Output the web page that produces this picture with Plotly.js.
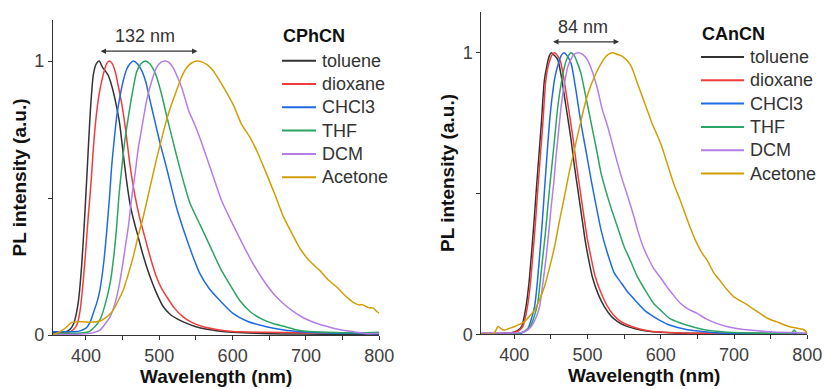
<!DOCTYPE html>
<html>
<head>
<meta charset="utf-8">
<script src="https://cdn.plot.ly/plotly-3.0.1.min.js"></script>
<style>
html,body{margin:0;padding:0;background:#fff;}
#chart{width:824px;height:389px;}
</style>
</head>
<body>
<div id="chart"></div>
<script>
// ---------- Data: CPhCN (left panel) ----------
const solvents = ['toluene', 'dioxane', 'CHCl3', 'THF', 'DCM', 'Acetone'];
const panelTitles = ['CPhCN', 'CAnCN'];
const shiftLabels = ['132 nm', '84 nm'];

const cph_toluene_wl = [355,370,378,383,387,390,394,398,402,406,410,414,418,422,426,430,434,438,442,446,450,455,460,465,471,478,487,495,505,515,525,535,550,565,580,600,630,670,720,800];
const cph_toluene_I  = [0.008,0.01,0.02,0.04,0.08,0.13,0.25,0.42,0.62,0.82,0.95,0.99,1.0,0.98,0.965,0.95,0.92,0.88,0.83,0.77,0.68,0.57,0.48,0.42,0.36,0.29,0.215,0.16,0.105,0.075,0.058,0.045,0.03,0.021,0.015,0.01,0.006,0.004,0.003,0.002];

const cph_dioxane_wl = [355,375,383,388,392,396,400,403,407,410,414,418,423,428,432,436,440,444,449,454,460,466,473,480,487,495,503,510,520,532,545,560,578,600,640,700,750,800];
const cph_dioxane_I  = [0.005,0.008,0.02,0.04,0.09,0.19,0.32,0.43,0.56,0.68,0.8,0.88,0.945,0.99,1.0,0.99,0.96,0.91,0.84,0.75,0.62,0.52,0.43,0.36,0.29,0.22,0.17,0.14,0.1,0.067,0.045,0.03,0.02,0.013,0.01,0.008,0.007,0.008];

const cph_chcl3_wl = [355,375,385,392,400,405,410,415,419,424,428,432,435,438,442,447,451,455.5,460,465,470,476,482,487,494,501,508,515,523,533,544,555,568,583,600,620,646,670,692,720,760,800];
const cph_chcl3_I  = [0.012,0.012,0.012,0.015,0.025,0.043,0.08,0.12,0.165,0.26,0.37,0.5,0.615,0.7,0.8,0.88,0.93,0.97,0.99,1.0,0.99,0.965,0.92,0.86,0.78,0.7,0.63,0.555,0.47,0.384,0.3,0.226,0.17,0.125,0.08,0.05,0.03,0.018,0.012,0.008,0.006,0.005];

const cph_thf_wl = [355,380,395,404,412,419,426,433,438,442,445,449,453,458,463,469,475,481,487,492,496,503,510,517,524,533,542,556,570,583,596,610,624,640,655,670,685,700,730,770,800];
const cph_thf_I  = [0.005,0.006,0.008,0.012,0.03,0.055,0.11,0.19,0.29,0.4,0.51,0.615,0.71,0.8,0.88,0.96,0.99,1.0,0.99,0.97,0.945,0.88,0.8,0.725,0.65,0.56,0.48,0.4,0.32,0.245,0.185,0.125,0.085,0.058,0.042,0.032,0.02,0.014,0.01,0.008,0.01];

const cph_dcm_wl = [355,390,405,419,426,433,439,444,449,453,458,462,467,471,477,483,490,496,502,508,513,519,525,531,540,548,556,565,574,585,601,614,628,642,656,669,683,697,712,728,745,765,783,800];
const cph_dcm_I  = [0.002,0.003,0.006,0.018,0.04,0.067,0.11,0.165,0.24,0.31,0.4,0.494,0.59,0.676,0.77,0.86,0.93,0.975,0.995,1.0,0.995,0.975,0.94,0.9,0.82,0.77,0.715,0.645,0.575,0.49,0.4,0.33,0.26,0.2,0.15,0.115,0.085,0.062,0.045,0.032,0.02,0.012,0.005,0.006];

const cph_acetone_wl = [355,365,374,380,388,396,405,414,420,425,431,437,444,451,458,464.5,471,478,487,496,503,510,517,524,530,537,544,551,558,566,574,583,592,601,612,624,635,646,658,669,681,692,705,719,731,742,753,764,772,778,785,792,797,800];
const cph_acetone_I  = [0,0.012,0.03,0.045,0.048,0.048,0.047,0.048,0.052,0.06,0.072,0.09,0.125,0.165,0.225,0.286,0.36,0.43,0.535,0.64,0.715,0.786,0.845,0.896,0.94,0.975,0.993,1.0,0.997,0.985,0.963,0.925,0.884,0.84,0.77,0.72,0.66,0.59,0.51,0.433,0.37,0.315,0.27,0.235,0.2,0.175,0.145,0.12,0.11,0.11,0.1,0.098,0.085,0.08];

// ---------- Data: CAnCN (right panel) ----------
const can_toluene_wl = [355,380,396,404,410,416,420,423,427,430,433.5,437,441,445,448,451,455,459.5,464,468.5,473,477.6,482,487,492,497,502,507,515,523,532,541,552,565,580,600,630,680,800];
const can_toluene_I  = [0.003,0.003,0.006,0.012,0.027,0.098,0.18,0.27,0.4,0.51,0.63,0.75,0.9,0.96,0.99,1.0,0.99,0.975,0.92,0.845,0.77,0.69,0.6,0.51,0.42,0.33,0.26,0.2,0.14,0.098,0.065,0.045,0.03,0.02,0.012,0.007,0.004,0.003,0.002];

const can_dioxane_wl = [355,380,398,406,412,418,422,425,429,432,435.5,439,443,447,451,455,459,463,467,471.5,476,480.5,485,490,495,500,505,510,518,526,535,544,556,570,585,605,640,700,800];
const can_dioxane_I  = [0.003,0.003,0.006,0.012,0.03,0.098,0.18,0.27,0.4,0.51,0.63,0.75,0.9,0.96,0.99,1.0,0.99,0.97,0.92,0.845,0.77,0.69,0.6,0.51,0.42,0.335,0.27,0.21,0.15,0.105,0.07,0.048,0.032,0.02,0.012,0.007,0.004,0.003,0.002];

const can_chcl3_wl = [355,400,410,418.6,424,427.7,431,434.5,438,441.3,444.5,448,452,456,460,464,468,472,477.6,484,491,498,505,511.5,518.5,527,536.6,544,555,567,578,590,600,612,635,660,680,720,800];
const can_chcl3_I  = [0,0,0.004,0.02,0.06,0.098,0.17,0.276,0.39,0.513,0.63,0.75,0.85,0.92,0.96,0.99,1.0,0.99,0.962,0.87,0.75,0.65,0.548,0.46,0.37,0.29,0.217,0.19,0.15,0.115,0.085,0.063,0.048,0.033,0.017,0.009,0.005,0.003,0.002];

const can_thf_wl = [355,400,409.5,416,423,428,432,435.5,439,442.5,445.8,449,452.6,456,459.5,464,468.5,473,477.6,482,486,491,498,505,512,518.5,525,532,541,550,558,568,578,590,600,612,625,635,658,680,700,740,778,782,786,800];
const can_thf_I  = [0,0.002,0.006,0.015,0.033,0.07,0.11,0.19,0.276,0.36,0.453,0.54,0.63,0.72,0.81,0.89,0.95,0.985,1.0,0.99,0.965,0.927,0.84,0.75,0.66,0.572,0.51,0.45,0.38,0.311,0.265,0.205,0.16,0.11,0.085,0.057,0.042,0.033,0.017,0.01,0.006,0.004,0.004,0.015,0.004,0.004];

const can_dcm_wl = [355,395,409.5,416,423,429,434.5,439,443.6,447,450.4,454,457,460.5,464,468.5,473,478,482,487,493,500,507,514,520,527.6,534,541,548,555,562,568.4,576,583,590,600,608,617,626,637,649,662,676,690,703.5,725,749,775,800];
const can_dcm_I  = [0.005,0.005,0.006,0.012,0.027,0.055,0.098,0.18,0.276,0.36,0.453,0.54,0.63,0.72,0.81,0.89,0.95,0.98,0.995,1.0,0.995,0.974,0.93,0.868,0.8,0.737,0.675,0.607,0.545,0.489,0.43,0.37,0.31,0.27,0.235,0.2,0.17,0.14,0.112,0.09,0.075,0.055,0.039,0.028,0.021,0.014,0.009,0.006,0.004];

const can_acetone_wl = [355,372,376,378,381,386,392,400,407,414,421,427.7,434,441.3,448,455,461.5,468.5,475,482,489,495.8,502,509.4,516,523,528,534,540,546,553,560,567,574,581,588,594,601,612,619,626,633,640,648,656,664,672,681,690,699,708,717,726,735,745,752,758,767,776,785,794,800];
const can_acetone_I  = [0,0.002,0.02,0.028,0.022,0.015,0.02,0.027,0.035,0.045,0.065,0.086,0.12,0.17,0.235,0.311,0.4,0.489,0.575,0.655,0.735,0.81,0.865,0.915,0.95,0.98,0.993,1.0,0.995,0.99,0.975,0.95,0.9,0.85,0.8,0.75,0.714,0.67,0.58,0.525,0.48,0.43,0.38,0.33,0.29,0.26,0.22,0.19,0.16,0.135,0.12,0.107,0.09,0.075,0.058,0.05,0.045,0.035,0.027,0.022,0.018,0.006];

const xTickVals = [400,450,500,550,600,650,700,750,800];
const xTickText = ['400','','500','','600','','700','','800'];
const yTickVals = [0,0.5,1];
const yTickText = ['0','','1'];

// ---------- Styles ----------
const colors = ['#333333','#f03c3c','#1f6be3','#2ca463','#b47de8','#d19e05'];
const FONT = 'Liberation Sans, Arial, sans-serif';
const W = 824, H = 389;

const leftSeries = [
  [cph_toluene_wl, cph_toluene_I],
  [cph_dioxane_wl, cph_dioxane_I],
  [cph_chcl3_wl, cph_chcl3_I],
  [cph_thf_wl, cph_thf_I],
  [cph_dcm_wl, cph_dcm_I],
  [cph_acetone_wl, cph_acetone_I]
];
const rightSeries = [
  [can_toluene_wl, can_toluene_I],
  [can_dioxane_wl, can_dioxane_I],
  [can_chcl3_wl, can_chcl3_I],
  [can_thf_wl, can_thf_I],
  [can_dcm_wl, can_dcm_I],
  [can_acetone_wl, can_acetone_I]
];

const traces = [];
leftSeries.forEach((s, i) => {
  traces.push({x: s[0], y: s[1], type: 'scatter', mode: 'lines', name: solvents[i],
    line: {color: colors[i], width: 1.5, shape: 'spline', smoothing: 0.6},
    xaxis: 'x', yaxis: 'y', showlegend: false});
});
rightSeries.forEach((s, i) => {
  traces.push({x: s[0], y: s[1], type: 'scatter', mode: 'lines', name: solvents[i],
    line: {color: colors[i], width: 1.5, shape: 'spline', smoothing: 0.6},
    xaxis: 'x2', yaxis: 'y2', showlegend: false});
});

function xAxis(domain, anchor) {
  return {domain: domain, anchor: anchor, range: [355, 800], showgrid: false, zeroline: false,
    showline: true, linecolor: '#333', linewidth: 1, ticks: 'outside', ticklen: 4, tickcolor: '#333',
    tickmode: 'array', tickvals: xTickVals, ticktext: xTickText,
    tickfont: {family: FONT, size: 18, color: '#404040'},
    title: {text: '<b>Wavelength (nm)</b>', font: {family: FONT, size: 19, color: '#111'}, standoff: 4}};
}
function yAxis(domain, anchor, top, standoff) {
  return {domain: domain, anchor: anchor, range: [0, top], showgrid: false, zeroline: false,
    showline: true, linecolor: '#333', linewidth: 1, ticks: 'outside', ticklen: 4, tickcolor: '#333',
    tickmode: 'array', tickvals: yTickVals, ticktext: yTickText,
    tickfont: {family: FONT, size: 18, color: '#404040'},
    title: {text: '<b>PL intensity (a.u.)</b>', font: {family: FONT, size: 19, color: '#111'}, standoff: standoff}};
}

// Manual legends (pixel layout → paper coords)
const legendBoxes = [
  {titleX: 281, titleY: 36, lineX0: 282, lineX1: 316, textX: 320, row0: 60.7, rowGap: 23.3},
  {titleX: 700, titleY: 34, lineX0: 701, lineX1: 744, textX: 748, row0: 57, rowGap: 23.3}
];
const shapes = [];
const annotations = [];
legendBoxes.forEach((b, p) => {
  annotations.push({xref: 'paper', yref: 'paper', x: b.titleX / W, y: 1 - b.titleY / H,
    xanchor: 'left', yanchor: 'middle', showarrow: false, text: '<b>' + panelTitles[p] + '</b>',
    font: {family: FONT, size: 18, color: '#111'}});
  solvents.forEach((name, i) => {
    const yy = 1 - (b.row0 + i * b.rowGap) / H;
    shapes.push({type: 'line', xref: 'paper', yref: 'paper', x0: b.lineX0 / W, x1: b.lineX1 / W,
      y0: yy, y1: yy, line: {color: colors[i], width: 2}});
    annotations.push({xref: 'paper', yref: 'paper', x: b.textX / W, y: yy, xanchor: 'left',
      yanchor: 'middle', showarrow: false, text: name, font: {family: FONT, size: 18, color: '#333'}});
  });
});

// Shift annotations (double arrows + labels)
annotations.push(
  {xref: 'x', yref: 'y', x: 552, y: 1.036, ax: 418, ay: 1.036, axref: 'x', ayref: 'y',
   text: '', showarrow: true, arrowside: 'end+start', arrowhead: 2, arrowsize: 0.9, arrowwidth: 1.2, arrowcolor: '#333'},
  {xref: 'x', yref: 'y', x: 480.5, y: 1.09, text: shiftLabels[0], showarrow: false,
   font: {family: FONT, size: 18, color: '#333'}},
  {xref: 'x2', yref: 'y2', x: 543, y: 1.039, ax: 451, ay: 1.039, axref: 'x2', ayref: 'y2',
   text: '', showarrow: true, arrowside: 'end+start', arrowhead: 2, arrowsize: 0.9, arrowwidth: 1.2, arrowcolor: '#333'},
  {xref: 'x2', yref: 'y2', x: 493.6, y: 1.091, text: shiftLabels[1], showarrow: false,
   font: {family: FONT, size: 18, color: '#333'}}
);

const layout = {
  width: W, height: H,
  margin: {l: 0, r: 0, t: 0, b: 0},
  paper_bgcolor: '#fff', plot_bgcolor: '#fff',
  font: {family: FONT},
  xaxis: xAxis([0.0643, 0.4603], 'y'),
  yaxis: yAxis([0.1388, 0.9486], 'x', 1.15, 2),
  xaxis2: xAxis([0.5841, 0.9797], 'y2'),
  yaxis2: yAxis([0.1406, 0.970], 'x2', 1.146, 3),
  showlegend: false,
  shapes: shapes,
  annotations: annotations
};

Plotly.newPlot('chart', traces, layout, {displayModeBar: false, staticPlot: true});
</script>
</body>
</html>
